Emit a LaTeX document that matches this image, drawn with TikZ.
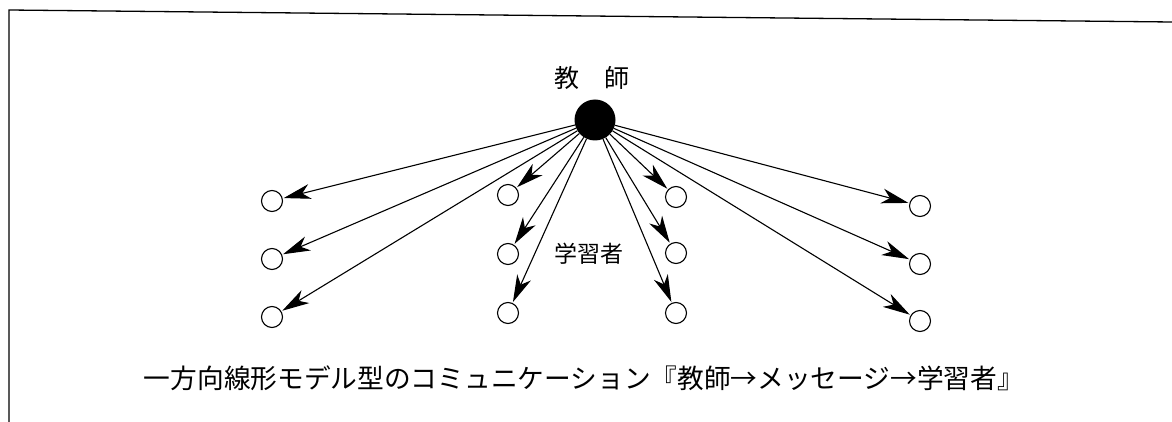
\documentclass[tikz,border=0pt]{standalone}
\usepackage{fontspec}
\newfontfamily\jp{Noto Sans CJK JP}
\usetikzlibrary{arrows.meta}
\tikzset{
  learner/.style={circle,draw,line width=1.1pt,minimum size=21pt,inner sep=0pt},
  teacher/.style={circle,fill=black,minimum size=41pt,inner sep=0pt},
  msg/.style={line width=1.1pt,arrows={-Stealth[length=27pt,width=15pt,inset=8pt]},shorten >=1pt},
  frame/.style={line width=1.3pt},
  lbl/.style={inner sep=0pt,font=\jp}
}
\begin{document}
\begin{tikzpicture}[x=1pt,y=-1pt]
\useasboundingbox (0,0) rectangle (1172,422);
\coordinate (fa) at (9,422);
\coordinate (fb) at (9,10);
\coordinate (fc) at (1172,22);
\draw[frame] (fa) -- (fb) -- (fc);

\node[teacher] (T) at (595,120) {};
\node[lbl,font=\jp\fontsize{25}{25}\selectfont] (tl) at (592,78) {教\hspace{1em}師};

\node[learner] (L1) at (272,201) {};
\node[learner] (L2) at (272,259) {};
\node[learner] (L3) at (272,317) {};
\node[learner] (M1) at (508,195) {};
\node[learner] (M2) at (508,254) {};
\node[learner] (M3) at (508,313) {};
\node[learner] (N1) at (676,197) {};
\node[learner] (N2) at (676,253) {};
\node[learner] (N3) at (676,313) {};
\node[learner] (R1) at (920,206) {};
\node[learner] (R2) at (920,264) {};
\node[learner] (R3) at (920,321) {};

\foreach \n in {L1,L2,L3,M1,M2,M3,N1,N2,N3,R1,R2,R3}
  \draw[msg] (T) -- (\n);

\node[lbl,font=\jp\fontsize{23}{23}\selectfont] (lr) at (589,254) {学習者};
\node[lbl,font=\jp\fontsize{26.7}{27}\selectfont] (cap) at (584,378) {一方向線形モデル型のコミュニケーション『教師→メッセージ→学習者』};
\end{tikzpicture}
\end{document}
